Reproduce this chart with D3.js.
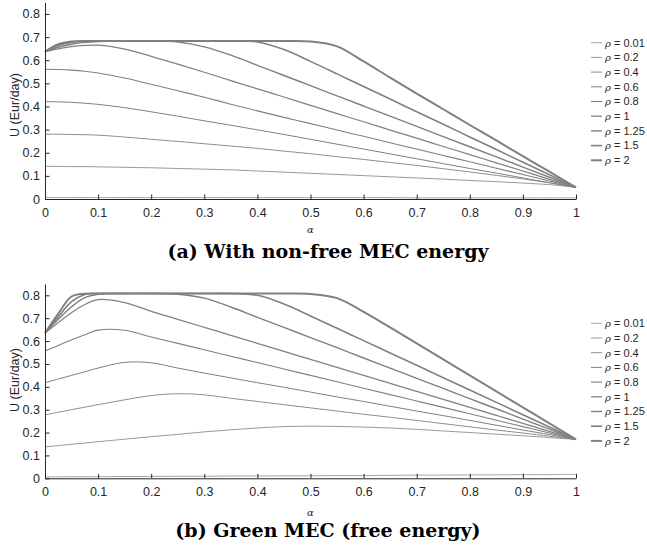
<!DOCTYPE html>
<html>
<head>
<meta charset="utf-8">
<script src="https://cdn.jsdelivr.net/npm/d3@7"></script>
<style>
  body { margin: 0; background: #fff; }
  svg { display: block; }
  .tick text { font-family: "Liberation Sans", Arial, sans-serif; font-size: 12.5px; fill: #262626; }
</style>
</head>
<body>
<svg id="chart" width="647" height="550"></svg>
<script>
var width = 647;
var height = 550;

// shared x grid (alpha)
var alphas = [0, 0.025, 0.05, 0.075, 0.1, 0.15, 0.2, 0.25, 0.3, 0.35, 0.4, 0.45, 0.5,
  0.55, 0.6, 0.65, 0.7, 0.75, 0.8, 0.85, 0.9, 0.95, 0.975, 1];

var rhoLabels = ["0.01", "0.2", "0.4", "0.6", "0.8", "1", "1.25", "1.5", "2"];
var lineWidths = [0.7, 0.8, 0.9, 1.0, 1.1, 1.25, 1.4, 1.6, 2.0];

var xTicks = [0, 0.1, 0.2, 0.3, 0.4, 0.5, 0.6, 0.7, 0.8, 0.9, 1];
var yTicks = [0, 0.1, 0.2, 0.3, 0.4, 0.5, 0.6, 0.7, 0.8];

// (a) non-free MEC energy
var uNonFree001 = [0.006, 0.006, 0.006, 0.006, 0.006, 0.006, 0.006, 0.006, 0.006, 0.006, 0.006, 0.006, 0.006,
  0.006, 0.006, 0.006, 0.005, 0.005, 0.005, 0.005, 0.005, 0.005, 0.005, 0.005];
var uNonFree02 = [0.141, 0.141, 0.140, 0.140, 0.139, 0.137, 0.135, 0.132, 0.129, 0.126, 0.121, 0.116, 0.111,
  0.106, 0.101, 0.096, 0.091, 0.086, 0.080, 0.075, 0.069, 0.062, 0.057, 0.050];
var uNonFree04 = [0.280, 0.280, 0.279, 0.278, 0.276, 0.268, 0.258, 0.249, 0.239, 0.229, 0.219, 0.207, 0.196,
  0.183, 0.171, 0.158, 0.145, 0.131, 0.117, 0.102, 0.087, 0.070, 0.061, 0.050];
var uNonFree06 = [0.421, 0.420, 0.418, 0.414, 0.409, 0.395, 0.377, 0.358, 0.338, 0.319, 0.299, 0.279, 0.258,
  0.237, 0.216, 0.195, 0.174, 0.153, 0.132, 0.112, 0.091, 0.070, 0.060, 0.050];
var uNonFree08 = [0.561, 0.560, 0.557, 0.552, 0.545, 0.523, 0.496, 0.468, 0.440, 0.410, 0.381, 0.353, 0.326,
  0.298, 0.271, 0.243, 0.216, 0.188, 0.161, 0.133, 0.106, 0.078, 0.064, 0.050];
var uNonFree1 = [0.637, 0.649, 0.659, 0.664, 0.665, 0.648, 0.617, 0.583, 0.548, 0.512, 0.476, 0.441, 0.405,
  0.369, 0.334, 0.298, 0.263, 0.227, 0.192, 0.156, 0.121, 0.085, 0.068, 0.050];
var uNonFree125 = [0.637, 0.656, 0.669, 0.677, 0.681, 0.683, 0.683, 0.679, 0.658, 0.622, 0.578, 0.534, 0.490,
  0.446, 0.402, 0.358, 0.314, 0.270, 0.226, 0.182, 0.138, 0.094, 0.072, 0.050];
var uNonFree15 = [0.637, 0.664, 0.677, 0.682, 0.683, 0.683, 0.683, 0.683, 0.683, 0.683, 0.679, 0.646, 0.595,
  0.541, 0.486, 0.432, 0.377, 0.323, 0.268, 0.214, 0.159, 0.105, 0.077, 0.050];
var uNonFree2 = [0.637, 0.669, 0.681, 0.683, 0.683, 0.683, 0.683, 0.683, 0.683, 0.683, 0.683, 0.683, 0.681,
  0.660, 0.595, 0.525, 0.456, 0.388, 0.320, 0.253, 0.185, 0.118, 0.084, 0.050];

// (b) green MEC, free energy
var uGreen001 = [0.006, 0.006, 0.007, 0.007, 0.007, 0.008, 0.008, 0.009, 0.009, 0.010, 0.010, 0.011, 0.011,
  0.012, 0.012, 0.013, 0.014, 0.014, 0.015, 0.015, 0.016, 0.016, 0.017, 0.017];
var uGreen02 = [0.137, 0.143, 0.149, 0.154, 0.160, 0.171, 0.182, 0.192, 0.203, 0.212, 0.220, 0.226, 0.228,
  0.227, 0.224, 0.220, 0.214, 0.207, 0.200, 0.193, 0.186, 0.178, 0.174, 0.170];
var uGreen04 = [0.277, 0.289, 0.300, 0.311, 0.322, 0.343, 0.362, 0.370, 0.365, 0.350, 0.336, 0.322, 0.308,
  0.294, 0.280, 0.267, 0.253, 0.239, 0.225, 0.211, 0.198, 0.184, 0.177, 0.170];
var uGreen06 = [0.418, 0.434, 0.450, 0.466, 0.482, 0.507, 0.505, 0.482, 0.460, 0.439, 0.418, 0.398, 0.377,
  0.356, 0.336, 0.315, 0.294, 0.274, 0.253, 0.232, 0.211, 0.191, 0.180, 0.170];
var uGreen08 = [0.557, 0.581, 0.605, 0.628, 0.648, 0.647, 0.618, 0.590, 0.562, 0.534, 0.506, 0.478, 0.450,
  0.422, 0.394, 0.366, 0.338, 0.310, 0.282, 0.254, 0.226, 0.198, 0.184, 0.170];
var uGreen1 = [0.635, 0.681, 0.724, 0.760, 0.781, 0.768, 0.730, 0.695, 0.660, 0.625, 0.590, 0.555, 0.520,
  0.485, 0.450, 0.415, 0.380, 0.345, 0.310, 0.275, 0.240, 0.205, 0.188, 0.170];
var uGreen125 = [0.635, 0.695, 0.750, 0.790, 0.805, 0.808, 0.808, 0.805, 0.788, 0.749, 0.704, 0.660, 0.615,
  0.571, 0.526, 0.482, 0.437, 0.393, 0.348, 0.304, 0.259, 0.215, 0.192, 0.170];
var uGreen15 = [0.635, 0.706, 0.772, 0.804, 0.808, 0.808, 0.808, 0.808, 0.808, 0.808, 0.800, 0.762, 0.710,
  0.656, 0.602, 0.548, 0.494, 0.440, 0.386, 0.332, 0.278, 0.224, 0.197, 0.170];
var uGreen2 = [0.635, 0.720, 0.795, 0.807, 0.808, 0.808, 0.808, 0.808, 0.808, 0.808, 0.808, 0.808, 0.806,
  0.788, 0.728, 0.660, 0.590, 0.520, 0.450, 0.380, 0.310, 0.240, 0.205, 0.170];

var panels = [
  {
    series: [uNonFree001, uNonFree02, uNonFree04, uNonFree06, uNonFree08, uNonFree1, uNonFree125, uNonFree15, uNonFree2],
    y0: 199, y1: 2.4, title: "(a) With non-free MEC energy",
    labelY: 105, alphaY: 233, titleY: 258, legendY: 42.7
  },
  {
    series: [uGreen001, uGreen02, uGreen04, uGreen06, uGreen08, uGreen1, uGreen125, uGreen15, uGreen2],
    y0: 478.3, y1: 283.9, title: "(b) Green MEC (free energy)",
    labelY: 380, alphaY: 516, titleY: 537, legendY: 323.3
  }
];

var svg = d3.select("#chart");
var x = d3.scaleLinear().domain([0, 1]).range([45, 576]);

panels.forEach(function (p) {
  var y = d3.scaleLinear().domain([0, 0.85]).range([p.y0, p.y1]);
  var g = svg.append("g");

  var line = d3.line()
    .x(function (d, i) { return x(alphas[i]); })
    .y(function (d) { return y(d); })
    .curve(d3.curveCatmullRom.alpha(0.5));

  // curves
  g.selectAll("path.curve")
    .data(p.series)
    .enter()
    .append("path")
    .attr("class", "curve")
    .attr("d", line)
    .attr("fill", "none")
    .attr("stroke", "#808080")
    .attr("stroke-width", function (d, i) { return lineWidths[i]; });

  // axes, ticks pointing inward
  var xAxis = d3.axisBottom(x).tickValues(xTicks).tickSize(-4.5).tickSizeOuter(0).tickPadding(9)
    .tickFormat(d3.format("~g"));
  g.append("g")
    .attr("transform", "translate(0," + p.y0 + ")")
    .call(xAxis);

  var yAxis = d3.axisLeft(y).tickValues(yTicks).tickSize(-4.5).tickSizeOuter(0).tickPadding(5)
    .tickFormat(d3.format("~g"));
  g.append("g")
    .attr("transform", "translate(45,0)")
    .call(yAxis);

  g.selectAll(".domain, .tick line").attr("stroke", "#262626");

  // y label
  g.append("text")
    .attr("transform", "translate(19," + p.labelY + ") rotate(-90)")
    .attr("text-anchor", "middle")
    .style("font-family", "Liberation Sans, Arial, sans-serif")
    .style("font-size", "12.5px")
    .attr("fill", "#262626")
    .text("U (Eur/day)");

  // x label
  g.append("text")
    .attr("x", x(0.5))
    .attr("y", p.alphaY)
    .attr("text-anchor", "middle")
    .style("font-family", "DejaVu Serif, serif")
    .style("font-style", "italic")
    .style("font-size", "10px")
    .attr("fill", "#262626")
    .text("α");

  // caption
  g.append("text")
    .attr("x", 328)
    .attr("y", p.titleY)
    .attr("text-anchor", "middle")
    .style("font-family", "DejaVu Serif, serif")
    .style("font-weight", "bold")
    .style("font-size", "19px")
    .attr("fill", "#000")
    .text(p.title);

  // legend
  var leg = g.selectAll("g.leg")
    .data(rhoLabels)
    .enter()
    .append("g")
    .attr("class", "leg")
    .attr("transform", function (d, i) { return "translate(591," + (p.legendY + i * 14.7) + ")"; });

  leg.append("line")
    .attr("x1", 0).attr("x2", 11)
    .attr("stroke", "#808080")
    .attr("stroke-width", function (d, i) { return lineWidths[i]; });

  var lt = leg.append("text")
    .attr("x", 14)
    .attr("dy", "0.35em")
    .style("font-family", "Liberation Sans, Arial, sans-serif")
    .style("font-size", "11px")
    .attr("fill", "#262626");
  lt.append("tspan")
    .style("font-family", "DejaVu Serif, serif")
    .style("font-style", "italic")
    .style("font-size", "10px")
    .text("ρ");
  lt.append("tspan").text(function (d) { return " = " + d; });
});
</script>
</body>
</html>
